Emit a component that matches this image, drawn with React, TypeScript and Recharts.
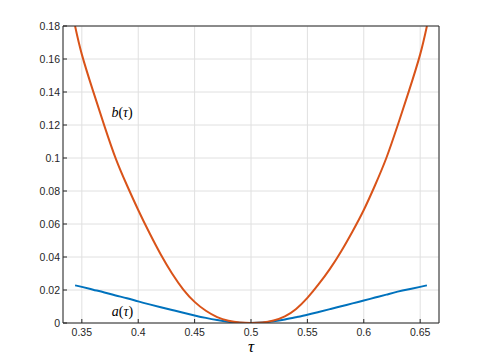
import React from "react";
import { LineChart, Line, XAxis, YAxis, CartesianGrid, ReferenceDot } from "recharts";

const tau = [0.344, 0.35, 0.36, 0.37, 0.38, 0.39, 0.4, 0.41, 0.42, 0.43, 0.44, 0.45, 0.46, 0.47, 0.48, 0.49, 0.5,
  0.51, 0.52, 0.53, 0.54, 0.55, 0.56, 0.57, 0.58, 0.59, 0.6, 0.61, 0.62, 0.63, 0.64, 0.65, 0.656];

const aValues = [0.0228, 0.0219, 0.0202, 0.0185, 0.0167, 0.015, 0.0131, 0.0113, 0.0096, 0.0079, 0.0062, 0.0046, 0.0031, 0.0018, 0.0008, 0.0002, 0,
  0.0003, 0.001, 0.0021, 0.0035, 0.005, 0.0067, 0.0084, 0.0101, 0.0119, 0.0136, 0.0154, 0.0172, 0.019, 0.0205, 0.0219, 0.0228];

const bValues = [0.18, 0.1628, 0.1405, 0.1195, 0.0998, 0.0835, 0.0685, 0.0545, 0.0415, 0.03, 0.0203, 0.0128, 0.0074, 0.0036, 0.0014, 0.0003, 0,
  0.0003, 0.0015, 0.004, 0.0085, 0.0152, 0.0235, 0.0328, 0.0435, 0.0555, 0.0685, 0.0835, 0.1, 0.1197, 0.1405, 0.1628, 0.18];

const xTicks = [0.35, 0.4, 0.45, 0.5, 0.55, 0.6, 0.65];
const yTicks = [0, 0.02, 0.04, 0.06, 0.08, 0.1, 0.12, 0.14, 0.16, 0.18];

const curveLabels = [
  { name: "a", tau: 0.386, value: 0.0071 },
  { name: "b", tau: 0.3857, value: 0.1277 },
];

const data = tau.map((t, i) => ({ tau: t, a: aValues[i], b: bValues[i] }));

const AXIS = "#262626";
const tickStyle = { fontFamily: "'Liberation Sans', Arial, sans-serif", fontSize: 10.5, fill: AXIS };
const mathFont = "'Liberation Serif', 'DejaVu Serif', serif";

const MathLabel = (name: string) => (props: any) => {
  const vb = props.viewBox || {};
  const cx = (vb.x ?? vb.cx ?? 0) + (vb.width ?? 0) / 2;
  const cy = (vb.y ?? vb.cy ?? 0) + (vb.height ?? 0) / 2;
  return (
    <text x={cx} y={cy + 4.5} textAnchor="middle" fontFamily={mathFont} fontSize={14} fill="#000">
      <tspan fontStyle="italic">{name}</tspan>
      <tspan>(</tspan>
      <tspan fontStyle="italic">τ</tspan>
      <tspan>)</tspan>
    </text>
  );
};

const TauAxisLabel = (props: any) => {
  const vb = props.viewBox || {};
  const cx = (vb.x ?? 0) + (vb.width ?? 0) / 2;
  const y = (vb.y ?? 0) + 29;
  return (
    <text x={cx} y={y} textAnchor="middle" fontFamily={mathFont} fontSize={17} fontStyle="italic" fill="#000">
      τ
    </text>
  );
};

export default function App() {
  return (
    <div style={{ position: "absolute", left: 0, top: 0, width: 485, height: 363, background: "#fff" }}>
      <LineChart width={485} height={363} data={data} margin={{ top: 25, right: 45, bottom: 10, left: 23 }}>
        <CartesianGrid xAxisId="bottom" yAxisId="left" stroke="#e0e0e0" strokeWidth={1} />
        <XAxis
          xAxisId="bottom"
          dataKey="tau"
          type="number"
          domain={[0.3333, 0.6667]}
          ticks={xTicks}
          allowDataOverflow
          height={30}
          tickSize={-4}
          tickMargin={10}
          tick={tickStyle}
          axisLine={{ stroke: AXIS }}
          tickLine={{ stroke: AXIS }}
          label={{ content: TauAxisLabel }}
        />
        <XAxis
          xAxisId="top"
          dataKey="tau"
          type="number"
          orientation="top"
          domain={[0.3333, 0.6667]}
          ticks={xTicks}
          allowDataOverflow
          height={1}
          tickSize={-4}
          tick={false}
          axisLine={{ stroke: AXIS }}
          tickLine={{ stroke: AXIS }}
        />
        <YAxis
          yAxisId="left"
          type="number"
          domain={[0, 0.18]}
          ticks={yTicks}
          allowDataOverflow
          width={40}
          tickSize={-4}
          tickMargin={7}
          tick={tickStyle}
          axisLine={{ stroke: AXIS }}
          tickLine={{ stroke: AXIS }}
        />
        <YAxis
          yAxisId="right"
          orientation="right"
          type="number"
          domain={[0, 0.18]}
          ticks={yTicks}
          allowDataOverflow
          width={1}
          tickSize={-4}
          tick={false}
          axisLine={{ stroke: AXIS }}
          tickLine={{ stroke: AXIS }}
        />
        <Line xAxisId="bottom" yAxisId="left" type="natural" dataKey="a" stroke="#0072BD" strokeWidth={2} dot={false} isAnimationActive={false} />
        <Line xAxisId="bottom" yAxisId="left" type="natural" dataKey="b" stroke="#D95319" strokeWidth={2} dot={false} isAnimationActive={false} />
        {curveLabels.map((l) => (
          <ReferenceDot
            key={l.name}
            xAxisId="bottom"
            yAxisId="left"
            x={l.tau}
            y={l.value}
            r={0}
            fill="none"
            stroke="none"
            label={{ content: MathLabel(l.name) }}
          />
        ))}
      </LineChart>
    </div>
  );
}
